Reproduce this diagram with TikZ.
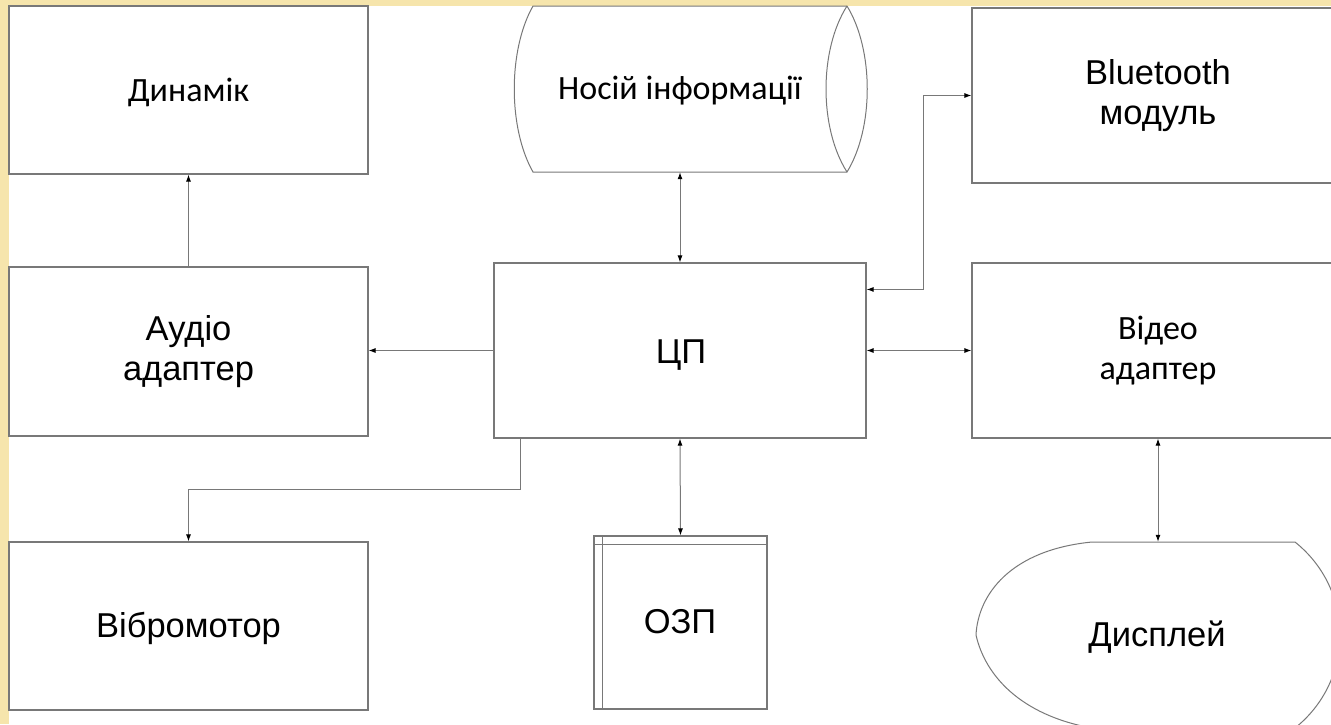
\documentclass[tikz,border=0pt]{standalone}
\usepackage{fontspec}
\setmainfont{Liberation Sans}
\newfontfamily\calfam{Carlito}
\usetikzlibrary{arrows.meta,calc}
\definecolor{beige}{RGB}{246,229,172}
\definecolor{edge}{RGB}{120,120,120}
\tikzset{
  box/.style={draw=edge,line width=1.1pt,fill=white,rectangle,inner sep=0pt,align=center,
     font=\fontsize{34.5}{40}\selectfont},
  calfont/.style={font=\calfam\fontsize{34}{40}\selectfont},
  conn/.style={draw=edge,line width=1pt},
  tipa/.style={-{Latex[length=7pt,width=5pt,color=black]}},
  tipb/.style={{Latex[length=7pt,width=5pt,color=black]}-{Latex[length=7pt,width=5pt,color=black]}}
}
\begin{document}
\begin{tikzpicture}[x=1pt,y=-1pt]
\useasboundingbox (0,0) rectangle (1331,724);
\clip (0,0) rectangle (1331,724);
\fill[beige] (0,0) rectangle (1331,724);
\fill[white] (9,6) rectangle (1340,730);

% left column
\node[box,calfont,minimum width=359pt,minimum height=168pt] (din) at (188.5,90) {};
\node[calfont] (dintext) at (188.5,92) {Динамік};
\node[box,minimum width=359pt,minimum height=169pt] (aud) at (188.5,351.5) {Аудіо\\адаптер};
\node[box,minimum width=359pt,minimum height=168pt] (vib) at (188.5,626) {};
\node[font=\fontsize{34.5}{40}\selectfont] (vibtext) at (188.5,628) {Вібромотор};

% storage cylinder
\node[minimum width=353pt,minimum height=166pt,inner sep=0pt] (nos) at (690.5,89) {};
\filldraw[edge,fill=white,line width=1pt] (533,6) -- (847,6)
   .. controls (874,50) and (874,128) .. (847,172)
   -- (533,172) .. controls (508,128) and (508,50) .. (533,6) -- cycle;
\draw[edge,line width=1pt] (847,6) .. controls (819,50) and (819,128) .. (847,172);
\node[calfont] (nostext) at (680,91) {Носій інформації};

% centre column
\node[box,minimum width=372pt,minimum height=175pt] (cp) at (680,350.5) {};
\node[font=\fontsize{34.5}{40}\selectfont] (cptext) at (681,355) {ЦП};
\node[box,minimum width=173pt,minimum height=173pt] (ozp) at (680.5,622.5) {};
\draw[edge,line width=1pt] (602,536) -- (602,709);
\draw[edge,line width=1pt] (594,544) -- (767,544);
\node[font=\fontsize{34.5}{40}\selectfont] (ozptext) at (680,622) {ОЗП};

% right column
\node[box,minimum width=372pt,minimum height=175pt] (bt) at (1158,95.5) {};
\node[align=center,font=\fontsize{34.5}{40}\selectfont] (bttext) at (1158,96) {Bluetooth\\модуль};
\node[box,calfont,minimum width=372pt,minimum height=175pt] (vid) at (1158,350.5) {Відео\\адаптер};

% display
\node[minimum width=364pt,minimum height=186pt,inner sep=0pt] (dis) at (1158,635) {};
\filldraw[edge,fill=white,line width=1pt] (1092,542) -- (1295,542)
   .. controls (1355,590) and (1355,680) .. (1295,728)
   -- (1092,728) .. controls (1020,715) and (985,675) .. (976,635)
   .. controls (978,595) and (1010,550) .. (1092,542) -- cycle;
\node[font=\fontsize{34.5}{40}\selectfont] (distext) at (1157,637) {Дисплей};

% connectors
\draw[conn,tipa] (aud.north) -- (din.south);
\draw[conn,tipa] (cp.west) -- (cp.west -| aud.east);
\draw[conn,tipb] (cp.north) -- (cp.north |- nos.south);
\draw[conn,tipb] (cp.south) -- (ozp.north);
\draw[conn,tipb] (cp.east) -- (vid.west);
\draw[conn,tipb] (vid.south) -- (vid.south |- dis.north);
\draw[conn,tipb] ([yshift=-27pt]cp.north east) -- ++(57,0) |- (bt.west);
\draw[conn,tipa] ([xshift=27pt]cp.south west) -- ++(0,51) -| (vib.north);
\end{tikzpicture}
\end{document}
